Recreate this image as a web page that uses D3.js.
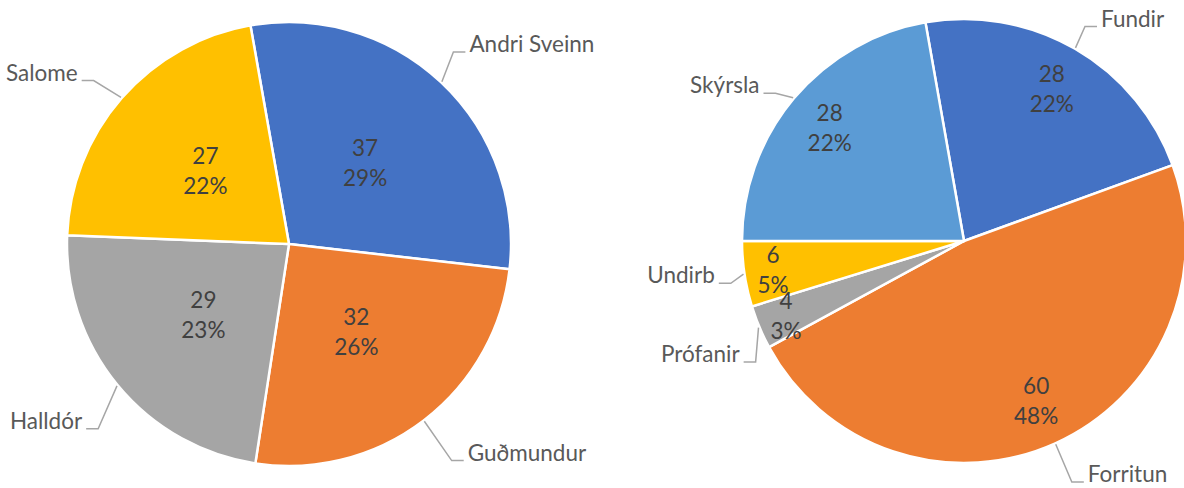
<!DOCTYPE html>
<html lang="is">

<head>
    <meta charset="UTF-8">
    <title>Pie charts</title>
    <script src="https://d3js.org/d3.v7.min.js"></script>
    <style>
        body { margin: 0; background: #fff; }
        text { font-family: Lato, "Open Sans", sans-serif; }
    </style>
</head>

<body>
    <script>
        // left chart - people
        var peopleNames = ["Andri Sveinn", "Guðmundur", "Halldór", "Salome"];
        var peopleValues = [37, 32, 29, 27];
        var peoplePct = ["29%", "26%", "23%", "22%"];

        // right chart - tasks
        var taskNames = ["Fundir", "Forritun", "Prófanir", "Undirb", "Skýrsla"];
        var taskValues = [28, 60, 4, 6, 28];
        var taskPct = ["22%", "48%", "3%", "5%", "22%"];

        var width = 1184;
        var height = 488;
        var radius = 222;
        var startAngle = -10 * Math.PI / 180;
        var fontSize = 22.5;

        var colors = ["#4472C4", "#ED7D31", "#A5A5A5", "#FFC000", "#5B9BD5"];

        // small hand tweaks of the outside label elbows (Excel "best fit" look)
        var labelNudge = {
            "Andri Sveinn": [-7, -10], "Salome": [-7, 1], "Halldór": [2, 13], "Guðmundur": [11, 2],
            "Fundir": [-4, 2], "Skýrsla": [3, 13], "Forritun": [5, -5], "Prófanir": [22, 16], "Undirb": [14, 2]
        };

        var svg = d3.select("body")
            .append("svg")
            .attr("width", width)
            .attr("height", height);

        function drawPie(cx, cy, names, values, pct, labelFrac) {
            var data = names.map(function (n, i) { return { name: n, value: values[i], pct: pct[i] }; });
            var total = d3.sum(values);

            var pie = d3.pie()
                .value(function (d) { return d.value; })
                .sort(null)
                .startAngle(startAngle)
                .endAngle(startAngle + 2 * Math.PI);

            var arc = d3.arc()
                .innerRadius(0)
                .outerRadius(radius);

            var color = d3.scaleOrdinal().domain(names).range(colors);

            var g = svg.append("g")
                .attr("transform", "translate(" + cx + "," + cy + ")");

            var arcs = pie(data);

            g.selectAll("path.slice")
                .data(arcs)
                .enter()
                .append("path")
                .attr("class", "slice")
                .attr("d", arc)
                .attr("fill", function (d) { return color(d.data.name); })
                .attr("stroke", "#fff")
                .attr("stroke-width", 2.5)
                .attr("stroke-linejoin", "round");

            // value + percent labels inside
            var inner = g.selectAll("g.vlabel")
                .data(arcs)
                .enter()
                .append("g")
                .attr("class", "vlabel")
                .attr("transform", function (d) {
                    var frac = d.data.value / total < 0.06 ? 0.87 : labelFrac;
                    var r = radius * frac;
                    return "translate(" + d3.arc().innerRadius(r).outerRadius(r).centroid(d) + ")";
                });
            inner.append("text")
                .attr("text-anchor", "middle")
                .attr("y", -7)
                .attr("fill", "#404040")
                .attr("font-size", fontSize)
                .text(function (d) { return d.data.value; });
            inner.append("text")
                .attr("text-anchor", "middle")
                .attr("y", 23)
                .attr("fill", "#404040")
                .attr("font-size", fontSize)
                .text(function (d) { return d.data.pct; });

            // category labels with leader lines
            arcs.forEach(function (d) {
                var a = (d.startAngle + d.endAngle) / 2;
                var s = Math.sin(a), c = Math.cos(a);
                var p0 = [(radius + 1) * s, -(radius + 1) * c];
                var re = radius + 28;
                var nudge = labelNudge[d.data.name] || [0, 0];
                var p1 = [re * s + nudge[0], -re * c + (c < 0 ? -20 * c : 0) + nudge[1]];
                var dir = s >= 0 ? 1 : -1;
                var p2 = [p1[0] + 12 * dir, p1[1]];

                g.append("path")
                    .attr("d", d3.line()([p0, p1, p2]))
                    .attr("fill", "none")
                    .attr("stroke", "#A6A6A6")
                    .attr("stroke-width", 1.5);

                g.append("text")
                    .attr("x", p2[0] + 4 * dir)
                    .attr("y", p2[1])
                    .attr("text-anchor", dir > 0 ? "start" : "end")
                    .attr("fill", "#595959")
                    .attr("font-size", fontSize)
                    .text(d.data.name);
            });
        }

        drawPie(289, 244, peopleNames, peopleValues, peoplePct, 0.5);
        drawPie(964, 241, taskNames, taskValues, taskPct, 0.79);
    </script>
</body>

</html>
